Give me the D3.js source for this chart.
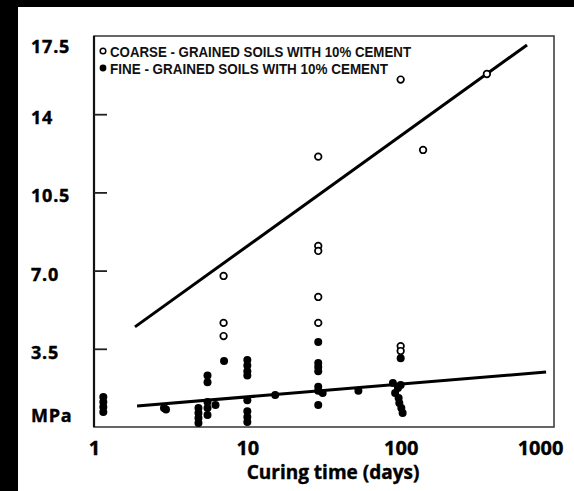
<!DOCTYPE html>
<html>
<head>
<meta charset="utf-8">
<script src="https://cdn.jsdelivr.net/npm/d3@7"></script>
<style>
  html, body { margin: 0; padding: 0; background: #fff; }
  svg { display: block; }
</style>
</head>
<body>
<svg id="chart" width="574" height="491"></svg>
<script>
// Unconfined compressive strength vs curing time, soils stabilised with 10% cement
const coarseDays = [7, 7, 7, 29, 29, 29, 29, 29, 100, 100, 100, 140, 365];
const coarseMPa  = [6.76, 4.66, 4.07, 12.1, 8.1, 7.88, 5.82, 4.66, 15.55, 3.62, 3.4, 12.4, 15.8];

const fineDays = [1.15, 1.15, 1.15, 1.15, 2.86, 2.95,
                  4.8, 4.8, 4.8, 4.8,
                  5.5, 5.5, 5.5, 5.5, 5.5, 6.2, 7.05,
                  10, 10, 10, 10, 10, 10, 10, 10, 15.2,
                  29, 29, 29, 29, 29, 29, 29, 31, 53,
                  89, 100, 96, 92, 97, 98, 101, 103, 100];
const fineMPa  = [1.34, 1.12, 0.9, 0.67, 0.85, 0.78,
                  0.85, 0.63, 0.4, 0.18,
                  2.3, 2.0, 1.12, 0.85, 0.54, 0.98, 2.95,
                  3.0, 2.75, 2.5, 2.3, 1.2, 0.7, 0.45, 0.22, 1.43,
                  3.8, 2.86, 2.68, 2.5, 1.8, 1.62, 0.98, 1.52, 1.62,
                  1.97, 1.88, 1.75, 1.52, 1.3, 1.07, 0.85, 0.63, 3.08];

// Fitted trend lines (endpoints, days / MPa)
const coarseTrendDays = [1.85, 667];
const coarseTrendMPa  = [4.48, 17.1];
const fineTrendDays   = [1.91, 888];
const fineTrendMPa    = [0.94, 2.46];

const xTickValues = [1, 10, 100, 1000];
const xTickLabels = ["1", "10", "100", "1000"];
const yTickValues = [0, 3.5, 7.0, 10.5, 14, 17.5];
const yTickLabels = ["MPa", "3.5", "7.0", "10.5", "14", "17.5"];

const legendLabels = ["COARSE - GRAINED SOILS WITH 10% CEMENT",
                      "FINE - GRAINED SOILS WITH 10% CEMENT"];
const xTitle = "Curing time (days)";

const svg = d3.select("#chart");
const W = 574, H = 491;
const plot = { left: 94, right: 554, top: 36, bottom: 427 };

const x = d3.scaleLog().domain([1, 1000]).range([plot.left, plot.right]);
const y = d3.scaleLinear().domain([0, 17.5]).range([plot.bottom, plot.top]);

// dark scanner frame on the top and left edges
svg.append("rect").attr("x", 0).attr("y", 0).attr("width", W).attr("height", 7).attr("fill", "#000");
svg.append("rect").attr("x", 0).attr("y", 0).attr("width", 18).attr("height", H).attr("fill", "#000");

// plot frame
svg.append("rect")
  .attr("x", plot.left).attr("y", plot.top)
  .attr("width", plot.right - plot.left).attr("height", plot.bottom - plot.top)
  .attr("fill", "none").attr("stroke", "#333").attr("stroke-width", 1.5);
svg.append("line")
  .attr("x1", plot.left).attr("x2", plot.left)
  .attr("y1", plot.top).attr("y2", plot.bottom)
  .attr("stroke", "#111").attr("stroke-width", 2.2);

// inward y ticks
const yAxis = d3.axisRight(y)
  .tickValues(yTickValues.filter(v => v > 0 && v < 17.5))
  .tickSize(13).tickFormat("");
const yAxisG = svg.append("g").attr("transform", `translate(${plot.left},0)`).call(yAxis);
yAxisG.select(".domain").remove();
yAxisG.selectAll(".tick line").attr("stroke", "#222").attr("stroke-width", 1.8);

// y tick labels (left aligned in the margin)
const labelFont = "'Open Sans', 'DejaVu Sans', sans-serif";
svg.append("g").selectAll("text")
  .data(yTickValues)
  .join("text")
  .attr("x", 31)
  .attr("y", (d) => d === 17.5 ? y(d) + 17 : d === 0 ? y(d) - 5 : y(d) + 10)
  .attr("font-family", labelFont)
  .attr("font-weight", 700)
  .attr("font-size", 18)
  .attr("letter-spacing", 0.8)
  .attr("fill", "#000")
  .attr("stroke", "#000").attr("stroke-width", 0.4)
  .text((d, i) => yTickLabels[i]);

// x tick labels
const xAxis = d3.axisBottom(x).tickValues(xTickValues).tickSize(0)
  .tickFormat((d, i) => xTickLabels[i]);
const xAxisG = svg.append("g").attr("transform", `translate(0,${plot.bottom})`).call(xAxis);
xAxisG.select(".domain").remove();
xAxisG.selectAll("text")
  .attr("y", 28).attr("dy", 0)
  .attr("dx", (d) => d === 1000 ? -14 : 0)
  .attr("font-family", labelFont)
  .attr("font-weight", 700)
  .attr("font-size", 20)
  .attr("fill", "#000")
  .attr("stroke", "#000").attr("stroke-width", 0.4);

// axis title
svg.append("text")
  .attr("x", 333).attr("y", 479)
  .attr("text-anchor", "middle")
  .attr("font-family", labelFont)
  .attr("font-weight", 700)
  .attr("font-size", 19)
  .attr("fill", "#000")
  .attr("stroke", "#000").attr("stroke-width", 0.4)
  .text(xTitle);

// trend lines
const line = d3.line().x(d => x(d[0])).y(d => y(d[1]));
svg.append("path")
  .datum(coarseTrendDays.map((d, i) => [d, coarseTrendMPa[i]]))
  .attr("d", line).attr("fill", "none").attr("stroke", "#000").attr("stroke-width", 3);
svg.append("path")
  .datum(fineTrendDays.map((d, i) => [d, fineTrendMPa[i]]))
  .attr("d", line).attr("fill", "none").attr("stroke", "#000").attr("stroke-width", 3);

// fine-grained soils: filled dots
svg.append("g").selectAll("circle")
  .data(fineDays.map((d, i) => [d, fineMPa[i]]))
  .join("circle")
  .attr("cx", d => x(d[0])).attr("cy", d => y(d[1]))
  .attr("r", 4).attr("fill", "#000");

// coarse-grained soils: open circles
svg.append("g").selectAll("circle")
  .data(coarseDays.map((d, i) => [d, coarseMPa[i]]))
  .join("circle")
  .attr("cx", d => x(d[0])).attr("cy", d => y(d[1]))
  .attr("r", 3.3).attr("fill", "#fff").attr("stroke", "#000").attr("stroke-width", 1.7);

// legend
const legendWidths = [302, 279];
const legend = svg.append("g");
legendLabels.forEach((lab, i) => {
  const ly = 51 + i * 17;
  if (i === 0) {
    legend.append("circle").attr("cx", 103).attr("cy", ly).attr("r", 2.8)
      .attr("fill", "#fff").attr("stroke", "#000").attr("stroke-width", 1.5);
  } else {
    legend.append("circle").attr("cx", 103).attr("cy", ly).attr("r", 3.4).attr("fill", "#000");
  }
  legend.append("text")
    .attr("x", 110).attr("y", ly + 6)
    .attr("font-family", "'Liberation Sans', Arial, sans-serif")
    .attr("font-weight", 700)
    .attr("font-size", 15.5)
    .attr("fill", "#111")
    .attr("textLength", legendWidths[i] - 1)
    .attr("lengthAdjust", "spacingAndGlyphs")
    .text(lab);
});
</script>
</body>
</html>
